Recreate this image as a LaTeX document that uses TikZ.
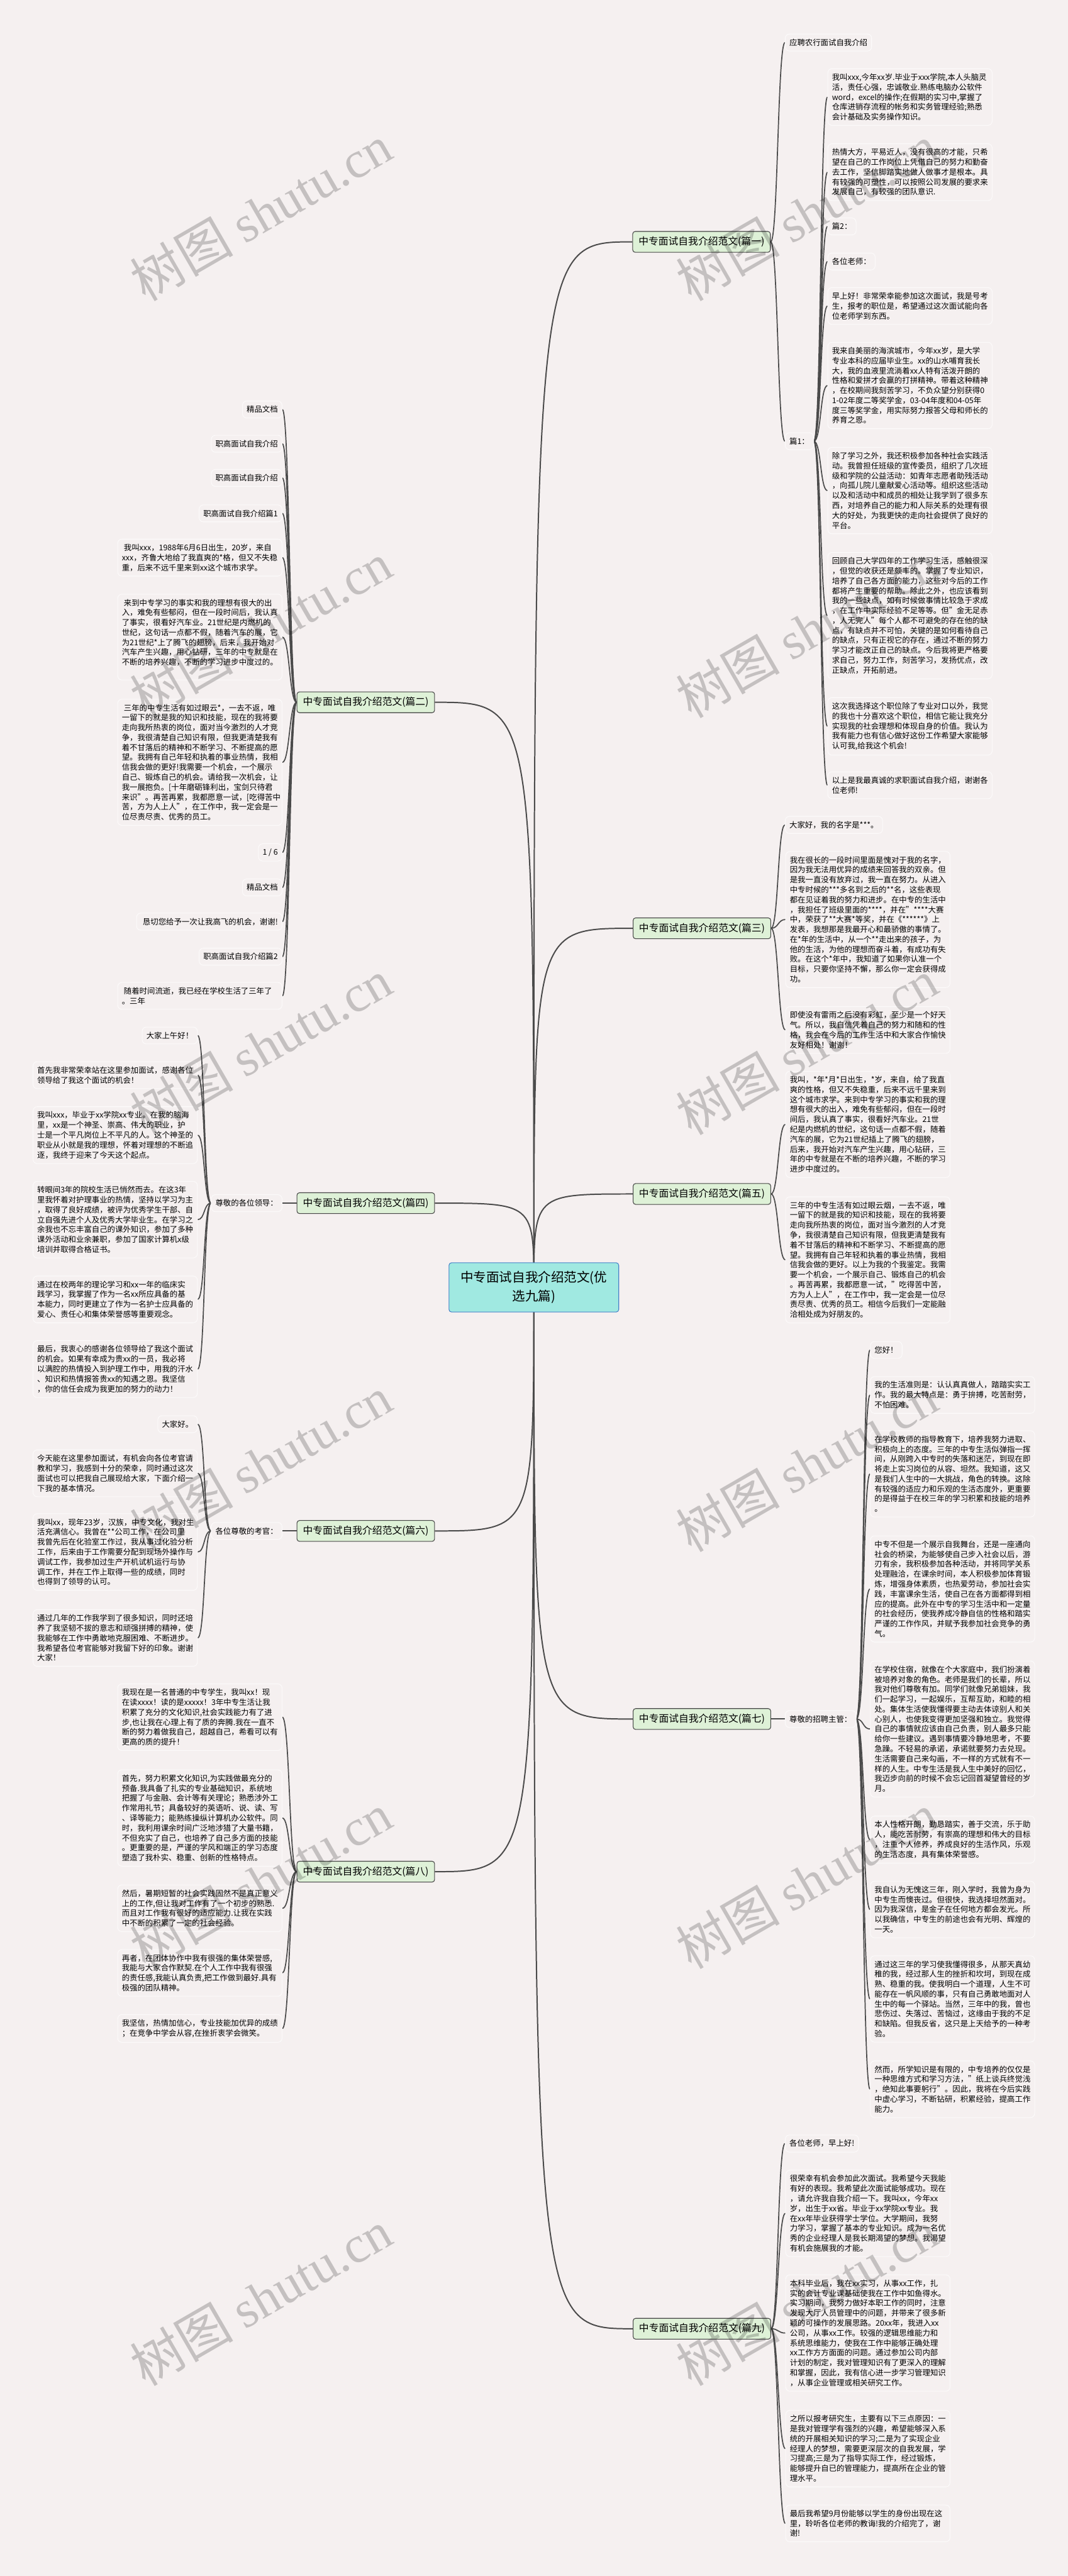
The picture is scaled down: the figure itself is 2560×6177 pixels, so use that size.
\documentclass[tikz,border=0pt]{standalone}
\usepackage{fontspec}
\setmainfont{Noto Sans CJK SC}
\newfontfamily\wmserif{Liberation Serif}
\usetikzlibrary{calc}
\definecolor{bgc}{RGB}{245,240,240}
\definecolor{boxline}{RGB}{252,250,250}
\definecolor{linkc}{RGB}{75,75,75}
\definecolor{brfill}{RGB}{222,241,215}
\definecolor{brline}{RGB}{70,70,70}
\definecolor{rootfill}{RGB}{160,233,225}
\definecolor{rootline}{RGB}{70,130,200}
\pgfdeclarelayer{bglayer}
\pgfdeclarelayer{linklayer}
\pgfsetlayers{bglayer,linklayer,main}
\exhyphenpenalty=10000
\hyphenpenalty=10000
\newcommand\myrlink[2]{\draw[link] (#1.east) .. controls +(17.5,0) and +(-17.5,0) .. (#2.west);}
\newcommand\myllink[2]{\draw[link] (#1.west) .. controls +(-17.5,0) and +(17.5,0) .. (#2.east);}
\newcommand\myrootlink[2]{\draw[mainlink] (r.center) .. controls (r.center |- #1.#2) .. (#1.#2);}
\begin{document}
\begin{tikzpicture}[x=0.25pt,y=-0.25pt,
 leaf/.style={draw=boxline, line width=0.4pt, fill=bgc, rounded corners=2.5pt, inner xsep=2.5pt, inner ysep=2.9pt, font=\fontsize{4.675pt}{5.95pt}\selectfont, align=left},
 para/.style={leaf, text width=93.5pt},
 branch/.style={draw=brline, line width=0.4pt, fill=brfill, rounded corners=1.5pt, minimum width=82.5pt, minimum height=12.5pt, inner sep=1pt, font=\fontsize{5.95pt}{7pt}\selectfont},
 root/.style={draw=rootline, line width=0.4pt, fill=rootfill, rounded corners=1.5pt, minimum width=101.75pt, minimum height=29.5pt, inner sep=1pt, align=center, font=\fontsize{7.75pt}{11.25pt}\selectfont},
 link/.style={draw=linkc, line width=0.65pt},
 mainlink/.style={draw=linkc, line width=0.75pt},
 wm/.style={text=black, text opacity=0.2, rotate=30, inner sep=0pt, font=\fontsize{31pt}{31pt}\selectfont}]
\begin{pgfonlayer}{bglayer}
\fill[bgc] (0,0) rectangle (2560,6177);
\end{pgfonlayer}
\useasboundingbox (0,0) rectangle (2560,6177);

% root
\node[root] (r) at (1280,3087) {中专面试自我介绍范文(优\\选九篇)};

% branch labels
\node[branch] (b1) at (1682,580) {中专面试自我介绍范文(篇一)};
\node[branch] (b3) at (1683,2226) {中专面试自我介绍范文(篇三)};
\node[branch] (b5) at (1683,2863) {中专面试自我介绍范文(篇五)};
\node[branch] (b7) at (1683,4122) {中专面试自我介绍范文(篇七)};
\node[branch] (b9) at (1683,5584) {中专面试自我介绍范文(篇九)};
\node[branch] (b2) at (877,1684) {中专面试自我介绍范文(篇二)};
\node[branch] (b4) at (877,2885) {中专面试自我介绍范文(篇四)};
\node[branch] (b6) at (877,3671) {中专面试自我介绍范文(篇六)};
\node[branch] (b8) at (877,4488) {中专面试自我介绍范文(篇八)};

% ---------- 篇一 ----------
\node[leaf, anchor=west] (n1a) at (1882,102) {应聘农行面试自我介绍};
\node[leaf, anchor=west] (n1b) at (1882,1058) {篇1：};
\node[para, anchor=north west] (a1) at (1984,164) {我叫xxx,今年xx岁.毕业于xxx学院,本人头脑灵\\活，责任心强，忠诚敬业.熟练电脑办公软件\\word，excel的操作;在假期的实习中,掌握了\\仓库进销存流程的帐务和实务管理经验;熟悉\\会计基础及实务操作知识。};
\node[para, anchor=north west] (a2) at (1984,344) {热情大方，平易近人，没有很高的才能，只希\\望在自己的工作岗位上凭借自己的努力和勤奋\\去工作，坚信脚踏实地做人做事才是根本。具\\有较强的可塑性，可以按照公司发展的要求来\\发展自己，有较强的团队意识.};
\node[leaf, anchor=west] (a3) at (1984,543) {篇2：};
\node[leaf, anchor=west] (a4) at (1984,627) {各位老师：};
\node[para, anchor=north west] (a5) at (1984,689) {早上好！非常荣幸能参加这次面试，我是号考\\生，报考的职位是，希望通过这次面试能向各\\位老师学到东西。};
\node[para, anchor=north west] (a6) at (1984,820) {我来自美丽的海滨城市，今年xx岁，是大学\\专业本科的应届毕业生。xx的山水哺育我长\\大，我的血液里流淌着xx人特有活泼开朗的\\性格和爱拼才会赢的打拼精神。带着这种精神\\，在校期间我刻苦学习，不负众望分别获得0\\1-02年度二等奖学金，03-04年度和04-05年\\度三等奖学金，用实际努力报答父母和师长的\\养育之恩。};
\node[para, anchor=north west] (a7) at (1984,1072) {除了学习之外，我还积极参加各种社会实践活\\动。我曾担任班级的宣传委员，组织了几次班\\级和学院的公益活动：如青年志愿者助残活动\\，向孤儿院儿童献爱心活动等。组织这些活动\\以及和活动中和成员的相处让我学到了很多东\\西，对培养自己的能力和人际关系的处理有很\\大的好处，为我更快的走向社会提供了良好的\\平台。};
\node[para, anchor=north west] (a8) at (1984,1324) {回顾自己大学四年的工作学习生活，感触很深\\，但觉的收获还是颇丰的。掌握了专业知识，\\培养了自己各方面的能力，这些对今后的工作\\都将产生重要的帮助。除此之外，也应该看到\\我的一些缺点，如有时候做事情比较急于求成\\，在工作中实际经验不足等等。但"金无足赤\\，人无完人"每个人都不可避免的存在他的缺\\点，有缺点并不可怕，关键的是如何看待自己\\的缺点，只有正视它的存在，通过不断的努力\\学习才能改正自己的缺点。今后我将更严格要\\求自己，努力工作，刻苦学习，发扬优点，改\\正缺点，开拓前进。};
\node[para, anchor=north west] (a9) at (1984,1672) {这次我选择这个职位除了专业对口以外，我觉\\的我也十分喜欢这个职位，相信它能让我充分\\实现我的社会理想和体现自身的价值。我认为\\我有能力也有信心做好这份工作希望大家能够\\认可我,给我这个机会!};
\node[para, anchor=north west] (a10) at (1984,1850) {以上是我最真诚的求职面试自我介绍，谢谢各\\位老师!};

% ---------- 篇三 ----------
\node[leaf, anchor=west] (c1) at (1882,1978) {大家好，我的名字是***。};
\node[para, anchor=north west] (c2) at (1883,2041) {我在很长的一段时间里面是愧对于我的名字，\\因为我无法用优异的成绩来回答我的双亲。但\\是我一直没有放弃过，我一直在努力。从进入\\中专时候的***多名到之后的**名，这些表现\\都在见证着我的努力和进步。在中专的生活中\\，我担任了班级里面的****，并在"****大赛\\中，荣获了**大赛*等奖，并在《******》上\\发表，我想那是我最开心和最骄傲的事情了。\\在*年的生活中，从一个**走出来的孩子，为\\他的生活，为他的理想而奋斗着，有成功有失\\败。在这个*年中，我知道了如果你认准一个\\目标，只要你坚持不懈，那么你一定会获得成\\功。};
\node[para, anchor=north west] (c3) at (1883,2413) {即使没有雷雨之后没有彩虹，至少是一个好天\\气。所以，我自信凭着自己的努力和随和的性\\格，我会在今后的工作生活中和大家合作愉快\\友好相处！谢谢！};

% ---------- 篇五 ----------
\node[para, anchor=north west] (e1) at (1883,2568) {我叫，*年*月*日出生，*岁，来自，给了我直\\爽的性格，但又不失稳重，后来不远千里来到\\这个城市求学。来到中专学习的事实和我的理\\想有很大的出入，难免有些郁闷，但在一段时\\间后，我认真了事实，很看好汽车业。21世\\纪是内燃机的世纪，这句话一点都不假，随着\\汽车的展，它为21世纪插上了腾飞的翅膀，\\后来，我开始对汽车产生兴趣，用心钻研，三\\年的中专就是在不断的培养兴趣，不断的学习\\进步中度过的。};
\node[para, anchor=north west] (e2) at (1883,2869) {三年的中专生活有如过眼云烟，一去不返，唯\\一留下的就是我的知识和技能，现在的我将要\\走向我所热衷的岗位，面对当今激烈的人才竞\\争，我很清楚自己知识有限，但我更清楚我有\\着不甘落后的精神和不断学习、不断提高的愿\\望。我拥有自己年轻和执着的事业热情，我相\\信我会做的更好。以上为我的个我鉴定。我需\\要一个机会，一个展示自己、锻炼自己的机会\\。再苦再累，我都愿意一试，"吃得苦中苦，\\方为人上人"，在工作中，我一定会是一位尽\\责尽责、优秀的员工。相信今后我们一定能融\\洽相处成为好朋友的。};

% ---------- 篇七 ----------
\node[leaf, anchor=west] (g0) at (1882,4122) {尊敬的招聘主管：};
\node[leaf, anchor=west] (g1) at (2086,3237) {您好！};
\node[para, anchor=north west] (g2) at (2086,3300) {我的生活准则是：认认真真做人，踏踏实实工\\作。我的最大特点是：勇于拚搏，吃苦耐劳，\\不怕困难。};
\node[para, anchor=north west] (g3) at (2086,3430) {在学校教师的指导教育下，培养我努力进取、\\积极向上的态度。三年的中专生活似弹指一挥\\间，从刚跨入中专时的失落和迷茫，到现在即\\将走上实习岗位的从容、坦然。我知道，这又\\是我们人生中的一大挑战，角色的转换。这除\\有较强的适应力和乐观的生活态度外，更重要\\的是得益于在校三年的学习积累和技能的培养\\。};
\node[para, anchor=north west] (g4) at (2086,3682) {中专不但是一个展示自我舞台，还是一座通向\\社会的桥梁，为能够使自己步入社会以后，游\\刃有余，我积极参加各种活动，并将同学关系\\处理融洽，在课余时间，本人积极参加体育锻\\炼，增强身体素质，也热爱劳动，参加社会实\\践，丰富课余生活，使自己在各方面都得到相\\应的提高。此外在中专的学习生活中和一定量\\的社会经历，使我养成冷静自信的性格和踏实\\严谨的工作作风，并赋予我参加社会竞争的勇\\气。};
\node[para, anchor=north west] (g5) at (2086,3982) {在学校住宿，就像在个大家庭中，我们扮演着\\被培养对象的角色。老师是我们的长辈，所以\\我对他们尊敬有加。同学们就像兄弟姐妹，我\\们一起学习，一起娱乐，互帮互助，和睦的相\\处。集体生活使我懂得要主动去体谅别人和关\\心别人，也使我变得更加坚强和独立。我觉得\\自己的事情就应该由自己负责，别人最多只能\\给你一些建议。遇到事情要冷静地思考，不要\\急躁。不轻易的承诺，承诺就要努力去兑现。\\生活需要自己来勾画，不一样的方式就有不一\\样的人生。中专生活是我人生中美好的回忆，\\我迈步向前的时候不会忘记回首凝望曾经的岁\\月。};
\node[para, anchor=north west] (g6) at (2086,4354) {本人性格开朗，勤恳踏实，善于交流，乐于助\\人，能吃苦耐劳，有崇高的理想和伟大的目标\\，注重个人修养，养成良好的生活作风，乐观\\的生活态度，具有集体荣誉感。};
\node[para, anchor=north west] (g7) at (2086,4510) {我自认为无愧这三年，刚入学时，我曾为身为\\中专生而懊丧过。但很快，我选择坦然面对。\\因为我深信，是金子在任何地方都会发光。所\\以我确信，中专生的前途也会有光明、辉煌的\\一天。};
\node[para, anchor=north west] (g8) at (2086,4689) {通过这三年的学习使我懂得很多，从那天真幼\\稚的我，经过那人生的挫折和坎坷，到现在成\\熟、稳重的我。使我明白一个道理，人生不可\\能存在一帆风顺的事，只有自己勇敢地面对人\\生中的每一个驿站。当然，三年中的我，曾也\\悲伤过、失落过、苦恼过，这缘由于我的不足\\和缺陷。但我反省，这只是上天给予的一种考\\验。};
\node[para, anchor=north west] (g9) at (2086,4941) {然而，所学知识是有限的，中专培养的仅仅是\\一种思维方式和学习方法，"纸上谈兵终觉浅\\，绝知此事要躬行"。因此，我将在今后实践\\中虚心学习，不断钻研，积累经验，提高工作\\能力。};

% ---------- 篇九 ----------
\node[leaf, anchor=west] (i1) at (1882,5140) {各位老师，早上好!};
\node[para, anchor=north west] (i2) at (1883,5203) {很荣幸有机会参加此次面试。我希望今天我能\\有好的表现。我希望此次面试能够成功。现在\\，请允许我自我介绍一下。我叫xx，今年xx\\岁，出生于xx省。毕业于xx学院xx专业。我\\在xx年毕业获得学士学位。大学期间，我努\\力学习，掌握了基本的专业知识。成为一名优\\秀的企业经理人是我长期渴望的梦想。我渴望\\有机会施展我的才能。};
\node[para, anchor=north west] (i3) at (1883,5454) {本科毕业后，我在xx实习，从事xx工作，扎\\实的会计专业课基础使我在工作中如鱼得水。\\实习期间，我努力做好本职工作的同时，注意\\发现大厅人员管理中的问题，并带来了很多新\\颖的可操作的发展思路。20xx年，我进入xx\\公司，从事xx工作。较强的逻辑思维能力和\\系统思维能力，使我在工作中能够正确处理\\xx工作方方面面的问题。通过参加公司内部\\计划的制定，我对管理知识有了更深入的理解\\和掌握，因此，我有信心进一步学习管理知识\\，从事企业管理或相关研究工作。};
\node[para, anchor=north west] (i4) at (1883,5779) {之所以报考研究生，主要有以下三点原因：一\\是我对管理学有强烈的兴趣，希望能够深入系\\统的开展相关知识的学习;二是为了实现企业\\经理人的梦想，需要更深层次的自我发展，学\\习提高;三是为了指导实际工作，经过锻炼，\\能够提升自已的管理能力，提高所在企业的管\\理水平。};
\node[para, anchor=north west] (i5) at (1883,6006) {最后我希望9月份能够以学生的身份出现在这\\里，聆听各位老师的教诲!我的介绍完了，谢\\谢!};

% ---------- 篇二 ----------
\node[leaf, anchor=east] (d1) at (677,982) {精品文档};
\node[leaf, anchor=east] (d2) at (677,1064) {职高面试自我介绍};
\node[leaf, anchor=east] (d3) at (677,1146) {职高面试自我介绍};
\node[leaf, anchor=east] (d4) at (677,1231) {职高面试自我介绍篇1};
\node[para, anchor=north east] (d5) at (677,1292) {\hspace*{1.2pt}我叫xxx，1988年6月6日出生，20岁，来自\\xxx，齐鲁大地给了我直爽的*格，但又不失稳\\重，后来不远千里来到xx这个城市求学。};
\node[para, anchor=north east] (d6) at (677,1424) {\hspace*{1.2pt}来到中专学习的事实和我的理想有很大的出\\入，难免有些郁闷，但在一段时间后，我认真\\了事实，很看好汽车业。21世纪是内燃机的\\世纪，这句话一点都不假，随着汽车的展，它\\为21世纪*上了腾飞的翅膀，后来，我开始对\\汽车产生兴趣，用心钻研，三年的中专就是在\\不断的培养兴趣，不断的学习进步中度过的。\\\mbox{}};
\node[para, anchor=north east] (d7) at (677,1676) {\hspace*{1.2pt}三年的中专生活有如过眼云*，一去不返，唯\\一留下的就是我的知识和技能，现在的我将要\\走向我所热衷的岗位，面对当今激烈的人才竞\\争，我很清楚自己知识有限，但我更清楚我有\\着不甘落后的精神和不断学习、不断提高的愿\\望。我拥有自己年轻和执着的事业热情，我相\\信我会做的更好!我需要一个机会，一个展示\\自己、锻炼自己的机会。请给我一次机会，让\\我一展抱负。[十年磨砺锋利出，宝剑只待君\\来识"。再苦再累，我都愿意一试，[吃得苦中\\苦，方为人上人"，在工作中，我一定会是一\\位尽责尽责、优秀的员工。};
\node[leaf, anchor=east] (d8) at (677,2044) {1 / 6};
\node[leaf, anchor=east] (d9) at (677,2128) {精品文档};
\node[leaf, anchor=east] (d10) at (677,2210) {\hspace*{1.2pt}恳切您给予一次让我高飞的机会，谢谢!};
\node[leaf, anchor=east] (d11) at (677,2294) {职高面试自我介绍篇2};
\node[para, anchor=north east] (d12) at (677,2355) {\hspace*{1.2pt}随着时间流逝，我已经在学校生活了三年了\\。三年};

% ---------- 篇四 ----------
\node[leaf, anchor=east] (f0) at (677,2885) {尊敬的各位领导：};
\node[leaf, anchor=east] (f1) at (474,2483) {大家上午好！};
\node[para, anchor=north east] (f2) at (474,2545) {首先我非常荣幸站在这里参加面试，感谢各位\\领导给了我这个面试的机会！};
\node[para, anchor=north east] (f3) at (474,2653) {我叫xxx，毕业于xx学院xx专业。在我的脑海\\里，xx是一个神圣、崇高、伟大的职业，护\\士是一个平凡岗位上不平凡的人。这个神圣的\\职业从小就是我的理想，怀着对理想的不断追\\逐，我终于迎来了今天这个起点。};
\node[para, anchor=north east] (f4) at (474,2832) {转眼间3年的院校生活已悄然而去。在这3年\\里我怀着对护理事业的热情，坚持以学习为主\\，取得了良好成绩，被评为优秀学生干部、自\\立自强先进个人及优秀大学毕业生。在学习之\\余我也不忘丰富自己的课外知识，参加了多种\\课外活动和业余兼职，参加了国家计算机x级\\培训并取得合格证书。};
\node[para, anchor=north east] (f5) at (474,3059) {通过在校两年的理论学习和xx一年的临床实\\践学习，我掌握了作为一名xx所应具备的基\\本能力，同时更建立了作为一名护士应具备的\\爱心、责任心和集体荣誉感等重要观念。};
\node[para, anchor=north east] (f6) at (474,3214) {最后，我衷心的感谢各位领导给了我这个面试\\的机会。如果有幸成为贵xx的一员，我必将\\以满腔的热情投入到护理工作中，用我的汗水\\、知识和热情报答贵xx的知遇之恩。我坚信\\，你的信任会成为我更加的努力的动力！};

% ---------- 篇六 ----------
\node[leaf, anchor=east] (h0) at (677,3671) {各位尊敬的考官：};
\node[leaf, anchor=east] (h1) at (474,3415) {大家好。};
\node[para, anchor=north east] (h2) at (474,3476) {今天能在这里参加面试，有机会向各位考官请\\教和学习，我感到十分的荣幸，同时通过这次\\面试也可以把我自己展现给大家，下面介绍一\\下我的基本情况。};
\node[para, anchor=north east] (h3) at (474,3629) {我叫xx，现年23岁，汉族，中专文化，我对生\\活充满信心。我曾在**公司工作，在公司里\\我曾先后在化验室工作过，我从事过化验分析\\工作，后来由于工作需要分配到现场外操作与\\调试工作，我参加过生产开机试机运行与协\\调工作，并在工作上取得一些的成绩，同时\\也得到了领导的认可。};
\node[para, anchor=north east] (h4) at (474,3859) {通过几年的工作我学到了很多知识，同时还培\\养了我坚韧不拔的意志和顽强拼搏的精神，使\\我能够在工作中勇敢地克服困难、不断进步。\\我希望各位考官能够对我留下好的印象。谢谢\\大家！};

% ---------- 篇八 ----------
\node[para, anchor=north east] (k1) at (677,4037) {我现在是一名普通的中专学生，我叫xx！现\\在读xxxx！读的是xxxxx！3年中专生活让我\\积累了充分的文化知识,社会实践能力有了进\\步,也让我在心理上有了质的奔腾.我在一直不\\断的努力着做我自己，超越自己，希看可以有\\更高的质的提升！};
\node[para, anchor=north east] (k2) at (677,4243) {首先，努力积累文化知识,为实践做最充分的\\预备.我具备了扎实的专业基础知识，系统地\\把握了与金融、会计等有关理论；熟悉涉外工\\作常用礼节；具备较好的英语听、说、读、写\\、译等能力；能熟练操纵计算机办公软件。同\\时，我利用课余时间广泛地涉猎了大量书籍，\\不但充实了自己，也培养了自己多方面的技能\\。更重要的是，严谨的学风和端正的学习态度\\塑造了我朴实、稳重、创新的性格特点。};
\node[para, anchor=north east] (k3) at (677,4519) {然后，暑期短暂的社会实践固然不是真正意义\\上的工作,但让我对工作有了一个初步的熟悉.\\而且对工作我有很好的适应能力.让我在实践\\中不断的积累了一定的社会经验。};
\node[para, anchor=north east] (k4) at (677,4674) {再者，在团体协作中我有很强的集体荣誉感,\\我能与大家合作默契.在个人工作中我有很强\\的责任感,我能认真负责,把工作做到最好.具有\\极强的团队精神。};
\node[para, anchor=north east] (k5) at (677,4830) {我坚信，热情加信心，专业技能加优异的成绩\\；在竞争中学会从容,在挫折衷学会微笑。};

% ---------- links ----------
\begin{pgfonlayer}{linklayer}
\myrootlink{b1}{west}
\myrootlink{b3}{west}
\myrootlink{b5}{west}
\myrootlink{b7}{west}
\myrootlink{b9}{west}
\myrootlink{b2}{east}
\myrootlink{b4}{east}
\myrootlink{b6}{east}
\myrootlink{b8}{east}
\myrlink{b1}{n1a}
\myrlink{b1}{n1b}
\foreach \c in {a1,a2,a3,a4,a5,a6,a7,a8,a9,a10} {\myrlink{n1b}{\c}}
\foreach \c in {c1,c2,c3} {\myrlink{b3}{\c}}
\foreach \c in {e1,e2} {\myrlink{b5}{\c}}
\myrlink{b7}{g0}
\foreach \c in {g1,g2,g3,g4,g5,g6,g7,g8,g9} {\myrlink{g0}{\c}}
\foreach \c in {i1,i2,i3,i4,i5} {\myrlink{b9}{\c}}
\foreach \c in {d1,d2,d3,d4,d5,d6,d7,d8,d9,d10,d11,d12} {\myllink{b2}{\c}}
\myllink{b4}{f0}
\foreach \c in {f1,f2,f3,f4,f5,f6} {\myllink{f0}{\c}}
\myllink{b6}{h0}
\foreach \c in {h1,h2,h3,h4} {\myllink{h0}{\c}}
\foreach \c in {k1,k2,k3,k4,k5} {\myllink{b8}{\c}}
\end{pgfonlayer}

% ---------- watermarks ----------
\foreach \k in {0,...,5} {
  \node[wm] (wl\k) at (625,{510+1000*\k}) {树图 {\wmserif shutu.cn}};
  \node[wm] (wr\k) at (1935,{510+1000*\k}) {树图 {\wmserif shutu.cn}};
}
\end{tikzpicture}
\end{document}
